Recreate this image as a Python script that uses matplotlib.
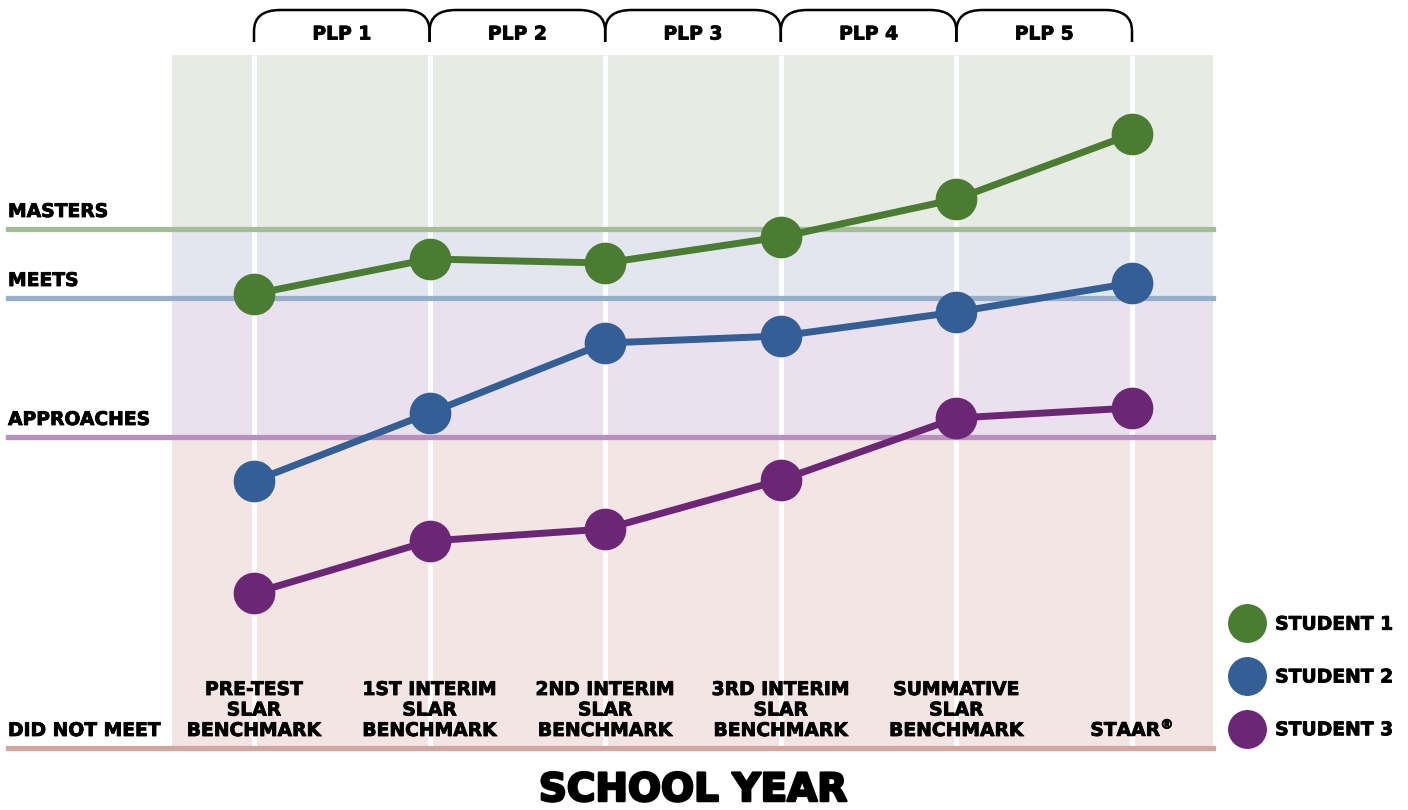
import matplotlib.pyplot as plt
import matplotlib.patheffects as pe
from matplotlib.path import Path
from matplotlib.patches import PathPatch
from matplotlib.lines import Line2D

plt.rcParams['font.family'] = ['DejaVu Sans']
plt.rcParams['mathtext.default'] = 'bf'

# test points along the school year
stages = ['PRE-TEST\nSLAR\nBENCHMARK', '1ST INTERIM\nSLAR\nBENCHMARK', '2ND INTERIM\nSLAR\nBENCHMARK',
          '3RD INTERIM\nSLAR\nBENCHMARK', 'SUMMATIVE\nSLAR\nBENCHMARK', 'STAAR$^{\\circledR}$']
plp_labels = ['PLP 1', 'PLP 2', 'PLP 3', 'PLP 4', 'PLP 5']

# performance levels (score thresholds)
level_names = ['DID NOT MEET', 'APPROACHES', 'MEETS', 'MASTERS']
level_values = [0, 31.1, 45.0, 51.9]
scale_top = 69.3

# student scores
student_names = ['STUDENT 1', 'STUDENT 2', 'STUDENT 3']
student1 = [45.4, 48.9, 48.5, 51.1, 54.9, 61.4]
student2 = [26.7, 33.5, 40.5, 41.2, 43.6, 46.5]
student3 = [15.5, 20.7, 21.9, 26.8, 33.0, 34.0]

student_colors = ['#4a7c32', '#335e96', '#6b2775']
band_colors = ['#f4e5e5', '#ebe1ee', '#e3e6ef', '#e6ebe4']
line_colors = ['#d6a5a0', '#b98fbf', '#98aecd', '#a3bd98']

W, H = 1408, 810
fs = 13.5
thick = [pe.withStroke(linewidth=0.6, foreground='black')]

fig = plt.figure(figsize=(W / 100, H / 100), dpi=100)
ax = fig.add_axes([0, 0, 1, 1])
step = 175.6
ax.set_xlim(-254 / step, (W - 254) / step)
ax.set_ylim(-6.2, 74.8)
ax.axis('off')

band_x0, band_x1 = 172 / W, 1213 / W
bounds = level_values + [scale_top]
for i in range(4):
    ax.axhspan(bounds[i], bounds[i + 1], xmin=band_x0, xmax=band_x1, color=band_colors[i], lw=0, zorder=0)

ax.vlines(range(len(stages)), 0, scale_top, color='white', lw=3.6, zorder=1)

for name, val, c in zip(level_names, level_values, line_colors):
    ax.axhline(val, xmin=8 / W, xmax=band_x1, color=c, lw=3.8, zorder=2)
    ax.text(8 / W, val + 0.8, name, transform=ax.get_yaxis_transform(), ha='left', va='bottom',
            fontsize=fs, fontweight='bold', path_effects=thick, zorder=5)

for vals, c in zip([student1, student2, student3], student_colors):
    ax.plot(range(len(vals)), vals, color=c, lw=5, marker='o', markersize=29, zorder=4)

for i, lab in enumerate(stages):
    ax.text(i, 0.8, lab, ha='center', va='bottom', fontsize=fs, fontweight='bold',
            linespacing=1.1, path_effects=thick, zorder=5)

# PLP brackets on top
yb, yt = 70.6, 73.8
rx, ry = 0.15, 2.1
for i, lab in enumerate(plp_labels):
    x0, x1 = i, i + 1
    verts = [(x0, yb), (x0, yt - ry), (x0, yt), (x0 + rx, yt),
             (x1 - rx, yt), (x1, yt), (x1, yt - ry), (x1, yb)]
    codes = [Path.MOVETO, Path.LINETO, Path.CURVE3, Path.CURVE3,
             Path.LINETO, Path.CURVE3, Path.CURVE3, Path.LINETO]
    ax.add_patch(PathPatch(Path(verts, codes), fill=False, lw=1.8, ec='black', zorder=5))
    ax.text(i + 0.5, 71.4, lab, ha='center', va='center', fontsize=fs, fontweight='bold',
            path_effects=thick)

ax.text(2.5, -4.2, 'SCHOOL YEAR', ha='center', va='center', fontsize=28, fontweight='bold',
        path_effects=[pe.withStroke(linewidth=1.8, foreground='black')])

handles = [Line2D([], [], ls='', marker='o', color=c, markersize=27) for c in student_colors]
leg = fig.legend(handles, student_names, loc='center left', bbox_to_anchor=((1247 - 14) / W, 1 - 677 / H),
                 frameon=False, handlelength=1.5, handletextpad=0.75, labelspacing=1.8, borderpad=0,
                 borderaxespad=0, prop={'size': fs, 'weight': 'bold'})
for t in leg.get_texts():
    t.set_path_effects(thick)

fig.savefig('out.png', dpi=100)
